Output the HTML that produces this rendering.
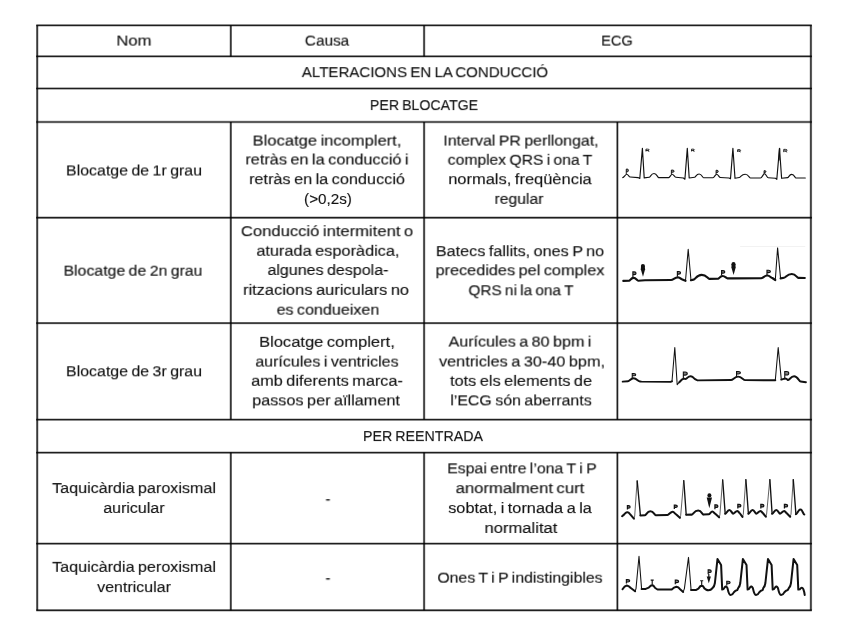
<!DOCTYPE html>
<html><head><meta charset="utf-8"><title>Taula ECG</title>
<style>
html,body{margin:0;padding:0;background:#fff;}
body{width:848px;height:636px;position:relative;overflow:hidden;font-family:"Liberation Sans",sans-serif;}
.t{position:absolute;white-space:nowrap;font-size:14.0px;line-height:16px;color:#111;transform-origin:50% 50%;will-change:transform;word-spacing:-0.9px;-webkit-text-stroke:0.12px #111;}
svg{position:absolute;left:0;top:0;}
</style></head><body>
<svg width="848" height="636" viewBox="0 0 848 636">
<g stroke="#000" stroke-opacity="0.4" stroke-width="2.4" fill="none" stroke-linecap="butt"><line x1="36.30" y1="25.4" x2="811.80" y2="25.4"/><line x1="36.30" y1="56.4" x2="811.80" y2="56.4"/><line x1="36.30" y1="88.5" x2="811.80" y2="88.5"/><line x1="36.30" y1="122.0" x2="811.80" y2="122.0"/><line x1="36.30" y1="217.7" x2="811.80" y2="217.7"/><line x1="36.30" y1="323.1" x2="811.80" y2="323.1"/><line x1="36.30" y1="419.6" x2="811.80" y2="419.6"/><line x1="36.30" y1="452.6" x2="811.80" y2="452.6"/><line x1="36.30" y1="543.6" x2="811.80" y2="543.6"/><line x1="36.30" y1="610.3" x2="811.80" y2="610.3"/><line x1="37.2" y1="25.4" x2="37.2" y2="610.3"/><line x1="810.9" y1="25.4" x2="810.9" y2="610.3"/><line x1="230.8" y1="25.4" x2="230.8" y2="56.4"/><line x1="230.8" y1="122.0" x2="230.8" y2="419.6"/><line x1="230.8" y1="452.6" x2="230.8" y2="610.3"/><line x1="424.1" y1="25.4" x2="424.1" y2="56.4"/><line x1="424.1" y1="122.0" x2="424.1" y2="419.6"/><line x1="424.1" y1="452.6" x2="424.1" y2="610.3"/><line x1="617.4" y1="122.0" x2="617.4" y2="419.6"/><line x1="617.4" y1="452.6" x2="617.4" y2="610.3"/></g><g stroke="#000" stroke-opacity="0.8" stroke-width="1.2" fill="none" stroke-linecap="butt"><line x1="36.30" y1="25.4" x2="811.80" y2="25.4"/><line x1="36.30" y1="56.4" x2="811.80" y2="56.4"/><line x1="36.30" y1="88.5" x2="811.80" y2="88.5"/><line x1="36.30" y1="122.0" x2="811.80" y2="122.0"/><line x1="36.30" y1="217.7" x2="811.80" y2="217.7"/><line x1="36.30" y1="323.1" x2="811.80" y2="323.1"/><line x1="36.30" y1="419.6" x2="811.80" y2="419.6"/><line x1="36.30" y1="452.6" x2="811.80" y2="452.6"/><line x1="36.30" y1="543.6" x2="811.80" y2="543.6"/><line x1="36.30" y1="610.3" x2="811.80" y2="610.3"/><line x1="37.2" y1="25.4" x2="37.2" y2="610.3"/><line x1="810.9" y1="25.4" x2="810.9" y2="610.3"/><line x1="230.8" y1="25.4" x2="230.8" y2="56.4"/><line x1="230.8" y1="122.0" x2="230.8" y2="419.6"/><line x1="230.8" y1="452.6" x2="230.8" y2="610.3"/><line x1="424.1" y1="25.4" x2="424.1" y2="56.4"/><line x1="424.1" y1="122.0" x2="424.1" y2="419.6"/><line x1="424.1" y1="452.6" x2="424.1" y2="610.3"/><line x1="617.4" y1="122.0" x2="617.4" y2="419.6"/><line x1="617.4" y1="452.6" x2="617.4" y2="610.3"/></g>
<g stroke="#111" fill="none" stroke-linejoin="round" stroke-linecap="round">
<path d="M622.7,177.6 C624.1,177.6 625.4,174.2 626.8,174.2 C628.0,174.2 629.0,177.0 630.2,177.0 L638.0,177.6 L639.8,178.5 L642.4,148.3 L644.2,177.9 L649.3,177.2 C650.3,177.2 651.1,173.5 654.0,173.5 C656.9,173.5 657.7,177.6 658.7,177.6 L668.7,177.6 C669.9,177.6 671.0,174.2 672.2,174.2 C673.5,174.2 674.5,177.2 675.8,177.2 L683.4,178.0 L684.9,179.2 L687.3,148.3 L689.2,178.0 L694.7,177.2 C695.7,177.2 696.4,174.0 699.1,174.0 C701.8,174.0 702.5,177.7 703.5,177.7 L713.0,177.7 C714.3,177.7 715.4,174.2 716.7,174.2 C718.0,174.2 719.1,177.5 720.4,177.5 L729.0,178.0 L730.5,178.8 L732.9,148.3 L735.0,178.3 L739.3,177.5 C740.6,177.5 741.5,174.2 745.2,174.2 C748.5,174.2 749.3,178.0 750.5,178.0 L760.5,178.0 C762.0,178.0 763.2,173.7 764.7,173.7 C765.9,173.7 767.0,177.7 768.2,177.7 L775.5,178.3 L776.8,179.3 L779.5,148.3 L781.6,178.3 L787.7,177.6 C788.6,177.6 789.3,174.4 791.8,174.4 C794.3,174.4 795.0,178.0 795.9,178.0 L805.3,178.0" stroke-width="1.15" />
<path d="M779.0,160 L779.6,148.6" stroke-width="1.3" />
<path d="M626.27,174.00 L626.27,169.07 L627.24,169.07 Q628.42,169.07 628.42,170.43 Q628.42,171.78 627.24,171.78 L626.27,171.78" stroke-width="0.95" stroke-linecap="butt" stroke-linejoin="miter" fill="#111" fill-opacity="0.55"/>
<path d="M671.38,174.20 L671.38,170.07 L672.57,170.07 Q674.02,170.07 674.02,171.21 Q674.02,172.34 672.57,172.34 L671.38,172.34" stroke-width="0.95" stroke-linecap="butt" stroke-linejoin="miter" fill="#111" fill-opacity="0.55"/>
<path d="M716.08,174.40 L716.08,170.28 L717.04,170.28 Q718.23,170.28 718.23,171.41 Q718.23,172.54 717.04,172.54 L716.08,172.54" stroke-width="0.95" stroke-linecap="butt" stroke-linejoin="miter" fill="#111" fill-opacity="0.55"/>
<path d="M764.08,174.00 L764.08,170.67 L764.91,170.67 Q765.92,170.67 765.92,171.59 Q765.92,172.50 764.91,172.50 L764.08,172.50" stroke-width="0.95" stroke-linecap="butt" stroke-linejoin="miter" fill="#111" fill-opacity="0.55"/>
<path d="M645.95,151.45 L645.95,149.15 L647.44,149.15 Q649.25,149.15 649.25,149.84 Q649.25,150.52 647.44,150.52 L645.95,150.52 M647.27,150.52 L649.25,151.45" stroke-width="0.90" stroke-linecap="butt" stroke-linejoin="miter"/>
<path d="M691.55,151.45 L691.55,149.15 L692.86,149.15 Q694.45,149.15 694.45,149.84 Q694.45,150.52 692.86,150.52 L691.55,150.52 M692.71,150.52 L694.45,151.45" stroke-width="0.90" stroke-linecap="butt" stroke-linejoin="miter"/>
<path d="M737.65,151.95 L737.65,149.65 L739.00,149.65 Q740.65,149.65 740.65,150.34 Q740.65,151.02 739.00,151.02 L737.65,151.02 M738.85,151.02 L740.65,151.95" stroke-width="0.90" stroke-linecap="butt" stroke-linejoin="miter"/>
<path d="M783.75,152.15 L783.75,149.35 L785.28,149.35 Q787.15,149.35 787.15,150.16 Q787.15,150.97 785.28,150.97 L783.75,150.97 M785.11,150.97 L787.15,152.15" stroke-width="0.90" stroke-linecap="butt" stroke-linejoin="miter"/>
<path d="M623.3,280.9 L629.2,280.7 C630.1,280.7 630.9,277.9 633.6,277.9 C636.1,277.9 636.8,280.7 638.2,280.7 L645.0,280.3 L671.0,280.0 C673.5,280.0 674.4,277.3 678.0,277.3 C680.4,277.3 681.0,279.4 682.3,279.4 L685.5,280.8" stroke-width="2.15" />
<path d="M685.5,280.8 L688.2,249.3 L691.0,280.2" stroke-width="1.05" />
<path d="M691.0,280.2 L693.5,279.6 C695.3,279.6 696.6,274.8 701.7,274.8 C706.5,274.8 707.7,278.9 709.4,278.9 L718.1,278.8 C719.1,278.8 719.9,276.0 722.6,276.0 C725.3,276.0 726.0,278.3 727.5,278.3 L733.0,278.4 L761.0,278.3 C763.2,278.3 764.1,275.5 767.3,275.5 C770.0,275.5 770.8,278.0 772.3,278.0 L775.3,280.0" stroke-width="2.15" />
<path d="M775.3,280.0 L777.6,247.9 L780.6,278.4" stroke-width="1.05" />
<path d="M780.6,278.4 L784.1,277.7 C785.8,277.7 787.0,274.0 791.8,274.0 C795.8,274.0 796.9,277.8 798.3,277.8 L804.8,278.0" stroke-width="2.15" />
<path d="M632.88,277.30 L632.88,271.88 L634.29,271.88 Q636.02,271.88 636.02,273.23 Q636.02,274.59 634.29,274.59 L632.88,274.59" stroke-width="1.15" stroke-linecap="butt" stroke-linejoin="miter" fill="#111" fill-opacity="0.55"/>
<path d="M677.38,276.80 L677.38,271.47 L678.79,271.47 Q680.52,271.47 680.52,272.81 Q680.52,274.14 678.79,274.14 L677.38,274.14" stroke-width="1.15" stroke-linecap="butt" stroke-linejoin="miter" fill="#111" fill-opacity="0.55"/>
<path d="M721.58,275.60 L721.58,270.68 L723.04,270.68 Q724.82,270.68 724.82,271.91 Q724.82,273.14 723.04,273.14 L721.58,273.14" stroke-width="1.15" stroke-linecap="butt" stroke-linejoin="miter" fill="#111" fill-opacity="0.55"/>
<path d="M766.98,275.00 L766.98,270.27 L768.53,270.27 Q770.42,270.27 770.42,271.46 Q770.42,272.64 768.53,272.64 L766.98,272.64" stroke-width="1.15" stroke-linecap="butt" stroke-linejoin="miter" fill="#111" fill-opacity="0.55"/>
<ellipse cx="642.9" cy="266.0" rx="2.05" ry="2.1" fill="#111" stroke="none"/><path d="M641.1,266 L644.7,266 L645.1,269.2 L643.0,276.7 L640.8,269.2 Z" fill="#111" stroke="none"/>
<ellipse cx="733.5" cy="264.2" rx="2.05" ry="2.1" fill="#111" stroke="none"/><path d="M731.7,264.2 L735.3,264.2 L735.7,267.4 L733.6,274.9 L731.4,267.4 Z" fill="#111" stroke="none"/>
<line x1="740.5" y1="246.5" x2="804.8" y2="246.5" stroke="#ececec" stroke-width="0.7"/>
<path d="M622.7,381.6 L628.0,381.3 C629.6,381.3 630.8,378.3 633.5,378.3 C636.8,378.3 638.0,381.4 640.0,381.4 L641.5,381.6 L670.5,381.9 L672.0,381.3" stroke-width="1.95" />
<path d="M672.0,381.3 L674.8,347.5 L677.2,384.7 L679.5,382.0" stroke-width="1.05" />
<path d="M679.3,382.2 L681.7,379.7 L684.0,378.6 Q686.0,379.6 687.5,377.6 Q690.0,375.3 692.5,376.8 Q695.0,379.6 697.5,380.4 L731.0,380.0 C733.1,380.0 734.5,376.6 738.1,376.6 C741.7,376.6 743.1,380.1 745.2,380.1 L775.3,380.3" stroke-width="1.95" />
<path d="M775.3,380.3 L778.2,347.5 L781.3,379.6" stroke-width="1.05" />
<path d="M781.3,379.6 L784.5,378.6 Q786.5,378.4 787.9,380.1 C789.5,380.1 790.7,376.3 794.1,376.3 C797.7,376.3 799.0,381.5 800.6,381.5 L805.9,382.2" stroke-width="1.95" />
<path d="M632.25,378.60 L632.25,373.55 L633.83,373.55 Q635.75,373.55 635.75,374.69 Q635.75,375.82 633.83,375.82 L632.25,375.82" stroke-width="1.10" stroke-linecap="butt" stroke-linejoin="miter" fill="#111" fill-opacity="0.55"/>
<path d="M683.35,379.00 L683.35,371.95 L685.10,371.95 Q687.25,371.95 687.25,373.54 Q687.25,375.12 685.10,375.12 L683.35,375.12" stroke-width="1.10" stroke-linecap="butt" stroke-linejoin="miter" fill="#111" fill-opacity="0.55"/>
<path d="M736.55,377.00 L736.55,371.45 L738.30,371.45 Q740.45,371.45 740.45,372.70 Q740.45,373.95 738.30,373.95 L736.55,373.95" stroke-width="1.10" stroke-linecap="butt" stroke-linejoin="miter" fill="#111" fill-opacity="0.55"/>
<path d="M784.75,379.40 L784.75,371.45 L786.55,371.45 Q788.75,371.45 788.75,373.24 Q788.75,375.03 786.55,375.03 L784.75,375.03" stroke-width="1.10" stroke-linecap="butt" stroke-linejoin="miter" fill="#111" fill-opacity="0.55"/>
<path d="M633.9,518.6 L634.7,516.1 L637.1,480.8" stroke-width="0.85" stroke="#444"/>
<path d="M637.2,481.0 L640.4,515.4" stroke-width="1.35" />
<path d="M679.9,517.8 L680.7,515.3 L683.7,480.5" stroke-width="0.85" stroke="#444"/>
<path d="M683.8,480.7 L686.2,514.8" stroke-width="1.35" />
<path d="M719.1,517.3 L719.9,514.8 L722.6,479.8" stroke-width="0.85" stroke="#444"/>
<path d="M722.7,480.0 L725.2,513.8" stroke-width="1.35" />
<path d="M742.5,516.9 L743.3,514.4 L745.8,479.5" stroke-width="0.85" stroke="#444"/>
<path d="M745.9,479.7 L748.4,513.8" stroke-width="1.35" />
<path d="M765.8,516.7 L766.6,514.2 L769.8,479.5" stroke-width="0.85" stroke="#444"/>
<path d="M769.9,479.7 L772.1,513.8" stroke-width="1.35" />
<path d="M790.2,516.7 L791.0,514.2 L793.2,479.5" stroke-width="0.85" stroke="#444"/>
<path d="M793.3,479.7 L795.9,514.2" stroke-width="1.35" />
<path d="M622.1,516.2 L624.0,514.6 Q627.4,510.6 629.6,513.6 L633.9,518.6" stroke-width="2.05" />
<path d="M640.4,515.4 L645.1,515.2 C646.3,515.2 647.1,511.2 650.4,511.2 C653.7,511.2 654.5,515.2 655.7,515.2 L667.5,514.9 C669.1,514.9 670.4,511.8 672.8,511.8 C674.2,511.8 675.0,514.2 676.0,514.2 L679.9,517.8" stroke-width="2.05" />
<path d="M686.2,514.8 L691.7,514.6 C693.1,514.6 694.2,510.6 698.2,510.6 C701.5,510.6 702.3,514.6 703.5,514.6 L708.8,514.2 C709.9,514.2 710.8,511.5 712.4,511.5 C713.6,511.5 714.2,513.6 715.0,513.6 L719.1,517.3" stroke-width="2.05" />
<path d="M725.2,513.8 C726.5,513.8 727.3,510.0 729.4,510.0 C731.2,510.0 732.0,513.6 733.1,513.6 C734.4,513.6 735.5,510.9 737.5,510.9 C738.4,510.9 739.0,513.0 739.6,513.0 L742.5,516.9" stroke-width="2.05" />
<path d="M748.4,513.8 C749.7,513.8 750.5,510.0 752.6,510.0 C754.5,510.0 755.2,513.6 756.3,513.6 C757.6,513.6 758.7,510.9 760.7,510.9 C761.6,510.9 762.2,513.0 762.8,513.0 L765.8,516.7" stroke-width="2.05" />
<path d="M772.1,513.8 C773.4,513.8 774.2,510.0 776.3,510.0 C778.2,510.0 778.9,513.6 780.0,513.6 C781.3,513.6 782.4,510.9 784.4,510.9 C785.3,510.9 785.9,513.0 786.5,513.0 L790.2,516.7" stroke-width="2.05" />
<path d="M795.9,514.2 C797.3,514.2 798.2,509.6 800.5,509.6 C802.4,509.6 803.2,514.4 804.3,514.4" stroke-width="2.05" />
<path d="M627.42,509.60 L627.42,505.73 L628.62,505.73 Q630.08,505.73 630.08,506.89 Q630.08,508.05 628.62,508.05 L627.42,508.05" stroke-width="1.25" stroke-linecap="butt" stroke-linejoin="miter" fill="#111" fill-opacity="0.55"/>
<path d="M674.33,509.00 L674.33,505.02 L675.65,505.02 Q677.27,505.02 677.27,506.22 Q677.27,507.41 675.65,507.41 L674.33,507.41" stroke-width="1.25" stroke-linecap="butt" stroke-linejoin="miter" fill="#111" fill-opacity="0.55"/>
<path d="M714.92,509.20 L714.92,504.82 L716.25,504.82 Q717.88,504.82 717.88,506.14 Q717.88,507.45 716.25,507.45 L714.92,507.45" stroke-width="1.25" stroke-linecap="butt" stroke-linejoin="miter" fill="#111" fill-opacity="0.55"/>
<path d="M737.83,508.60 L737.83,504.43 L739.20,504.43 Q740.88,504.43 740.88,505.68 Q740.88,506.93 739.20,506.93 L737.83,506.93" stroke-width="1.25" stroke-linecap="butt" stroke-linejoin="miter" fill="#111" fill-opacity="0.55"/>
<path d="M760.83,508.60 L760.83,504.43 L762.20,504.43 Q763.88,504.43 763.88,505.68 Q763.88,506.93 762.20,506.93 L760.83,506.93" stroke-width="1.25" stroke-linecap="butt" stroke-linejoin="miter" fill="#111" fill-opacity="0.55"/>
<path d="M784.42,508.60 L784.42,504.43 L785.84,504.43 Q787.58,504.43 787.58,505.68 Q787.58,506.93 785.84,506.93 L784.42,506.93" stroke-width="1.25" stroke-linecap="butt" stroke-linejoin="miter" fill="#111" fill-opacity="0.55"/>
<path d="M706.7,497.5 L712.0,497.5 L709.3,508.2 Z" fill="#111" stroke="none"/>
<ellipse cx="709.4" cy="495.4" rx="2.0" ry="2.1" fill="#111" stroke="none"/>
<path d="M635.1,591.3 L636.0,588.6 L639.0,556.2 L641.6,588.9" stroke-width="1.05" />
<path d="M683.2,591.9 L684.4,588.6 L688.5,557.4 L691.1,590.1" stroke-width="1.05" />
<path d="M622.5,589.2 Q624.5,586.0 626.8,585.6 Q629.0,586.0 630.8,588.0 L635.1,591.3" stroke-width="2.0" />
<path d="M641.6,588.9 L645.7,588.9 L648.8,587.6 L651.0,585.6 L653.4,585.6 L655.2,588.0 L657.5,589.5 L671.7,589.5 Q674.0,587.2 676.4,586.7 Q678.4,587.0 679.8,588.9 L683.2,591.9" stroke-width="2.0" />
<path d="M691.1,590.1 L695.8,590.1 L698.4,588.6 L700.5,586.0 L702.9,586.0 L704.4,588.4 L705.9,589.5 C708.0,590.6 710.8,590.2 712.6,588.0 Q714.4,586.6 714.9,583.0 L717.5,558.9 L721.1,564.9 L722.2,589.6 Q723.7,589.6 724.7,587.4 Q726.1,585.3 727.5,588.2 Q728.9,594.8 730.6,595.1 Q732.6,595.0 733.8,592.4 Q735.1,590.4 737.3,590.0 L738.3,587.8 Q739.8,586.6 740.3,583.0 L742.9,558.9 L746.5,564.9 L747.6,589.6 Q749.1,589.6 750.1,587.4 Q751.5,585.3 752.9,588.2 Q754.3,594.8 756.0,595.1 Q758.0,595.0 759.2,592.4 Q760.5,590.4 762.7,590.0 L763.4,587.8 Q764.9,586.6 765.4,583.0 L768.0,558.9 L771.6,564.9 L772.7,589.6 Q774.2,589.6 775.2,587.4 Q776.6,585.3 778.0,588.2 Q779.4,594.8 781.1,595.1 Q783.1,595.0 784.3,592.4 Q785.6,590.4 787.8,590.0 L789.0,587.8 Q790.5,586.6 791.0,583.0 L793.6,558.9 L797.2,564.9 L798.3,589.6 Q799.8,589.8 800.8,588.2 Q802.4,586.8 803.4,589.4 Q804.4,592.0 804.7,594.9" stroke-width="2.0" stroke-linejoin="round"/>
<path d="M626.38,583.60 L626.38,579.58 L627.88,579.58 Q629.72,579.58 629.72,580.78 Q629.72,581.99 627.88,581.99 L626.38,581.99" stroke-width="1.15" stroke-linecap="butt" stroke-linejoin="miter" fill="#111" fill-opacity="0.55"/>
<path d="M650.68,580.18 L653.72,580.18 M652.20,580.18 L652.20,585.00" stroke-width="1.15" stroke-linecap="butt" stroke-linejoin="miter"/>
<path d="M675.28,584.20 L675.28,580.18 L676.78,580.18 Q678.62,580.18 678.62,581.38 Q678.62,582.59 676.78,582.59 L675.28,582.59" stroke-width="1.15" stroke-linecap="butt" stroke-linejoin="miter" fill="#111" fill-opacity="0.55"/>
<path d="M700.18,580.78 L703.22,580.78 M701.70,580.78 L701.70,585.40" stroke-width="1.15" stroke-linecap="butt" stroke-linejoin="miter"/>
<path d="M708.15,574.20 L708.15,569.85 L709.54,569.85 Q711.25,569.85 711.25,571.15 Q711.25,572.46 709.54,572.46 L708.15,572.46" stroke-width="1.10" stroke-linecap="butt" stroke-linejoin="miter" fill="#111" fill-opacity="0.55"/>
<path d="M726.78,585.40 L726.78,581.28 L728.28,581.28 Q730.12,581.28 730.12,582.51 Q730.12,583.75 728.28,583.75 L726.78,583.75" stroke-width="1.15" stroke-linecap="butt" stroke-linejoin="miter" fill="#111" fill-opacity="0.55"/>
<path d="M708.8,574.0 L708.8,578.5" stroke-width="1.2"/>
<path d="M706.7,576.4 L710.9,576.4 L708.8,583.2 Z" fill="#111" stroke="none"/>
</g>
</svg>
<div class="t" style="left:134.44px;top:32px;transform:translate(-50%,0.60px) scaleX(1.1929) rotate(0.03deg)">Nom</div>
<div class="t" style="left:326.66px;top:32px;transform:translate(-50%,0.60px) scaleX(1.0927) rotate(0.03deg)">Causa</div>
<div class="t" style="left:617.28px;top:32px;transform:translate(-50%,0.60px) scaleX(1.0414) rotate(0.03deg)">ECG</div>
<div class="t" style="left:424.54px;top:64px;transform:translate(-50%,0.20px) scaleX(1.0760) rotate(0.03deg)">ALTERACIONS EN LA CONDUCCIÓ</div>
<div class="t" style="left:423.59px;top:97px;transform:translate(-50%,0.10px) scaleX(1.0121) rotate(0.03deg)">PER BLOCATGE</div>
<div class="t" style="left:423.48px;top:428px;transform:translate(-50%,0.10px) scaleX(1.0154) rotate(0.03deg)">PER REENTRADA</div>
<div class="t" style="left:134.43px;top:162px;transform:translate(-50%,0.50px) scaleX(1.1390) rotate(0.03deg)">Blocatge de 1r grau</div>
<div class="t" style="left:133.36px;top:262px;transform:translate(-50%,0.70px) scaleX(1.1328) rotate(0.03deg)">Blocatge de 2n grau</div>
<div class="t" style="left:134.43px;top:363px;transform:translate(-50%,0.30px) scaleX(1.1390) rotate(0.03deg)">Blocatge de 3r grau</div>
<div class="t" style="left:134.22px;top:480px;transform:translate(-50%,0.10px) scaleX(1.1521) rotate(0.03deg)">Taquicàrdia paroxismal</div>
<div class="t" style="left:134.21px;top:500px;transform:translate(-50%,0.00px) scaleX(1.1444) rotate(0.03deg)">auricular</div>
<div class="t" style="left:134.22px;top:558px;transform:translate(-50%,0.90px) scaleX(1.1521) rotate(0.03deg)">Taquicàrdia peroxismal</div>
<div class="t" style="left:133.86px;top:579px;transform:translate(-50%,0.10px) scaleX(1.1439) rotate(0.03deg)">ventricular</div>
<div class="t" style="left:327.24px;top:132px;transform:translate(-50%,0.60px) scaleX(1.1815) rotate(0.03deg)">Blocatge incomplert,</div>
<div class="t" style="left:326.92px;top:151px;transform:translate(-50%,0.50px) scaleX(1.1629) rotate(0.03deg)">retràs en la conducció i</div>
<div class="t" style="left:327.43px;top:171px;transform:translate(-50%,0.20px) scaleX(1.1612) rotate(0.03deg)">retràs en la conducció</div>
<div class="t" style="left:327.65px;top:191px;transform:translate(-50%,0.00px) scaleX(1.0860) rotate(0.03deg)">(&gt;0,2s)</div>
<div class="t" style="left:327.44px;top:223px;transform:translate(-50%,0.20px) scaleX(1.1863) rotate(0.03deg)">Conducció intermitent o</div>
<div class="t" style="left:327.93px;top:242px;transform:translate(-50%,0.80px) scaleX(1.1659) rotate(0.03deg)">aturada esporàdica,</div>
<div class="t" style="left:327.75px;top:262px;transform:translate(-50%,0.00px) scaleX(1.1443) rotate(0.03deg)">algunes despola-</div>
<div class="t" style="left:326.33px;top:281px;transform:translate(-50%,0.90px) scaleX(1.1745) rotate(0.03deg)">ritzacions auriculars no</div>
<div class="t" style="left:328.22px;top:301px;transform:translate(-50%,0.70px) scaleX(1.1506) rotate(0.03deg)">es condueixen</div>
<div class="t" style="left:327.33px;top:333px;transform:translate(-50%,0.90px) scaleX(1.1798) rotate(0.03deg)">Blocatge complert,</div>
<div class="t" style="left:327.32px;top:353px;transform:translate(-50%,0.60px) scaleX(1.1468) rotate(0.03deg)">aurícules i ventricles</div>
<div class="t" style="left:327.32px;top:372px;transform:translate(-50%,0.80px) scaleX(1.1638) rotate(0.03deg)">amb diferents marca-</div>
<div class="t" style="left:326.34px;top:392px;transform:translate(-50%,0.40px) scaleX(1.1606) rotate(0.03deg)">passos per aïllament</div>
<div class="t" style="left:328.41px;top:491px;transform:translate(-50%,0.20px) scaleX(1.0500) rotate(0.03deg)">-</div>
<div class="t" style="left:328.41px;top:570px;transform:translate(-50%,0.20px) scaleX(1.0500) rotate(0.03deg)">-</div>
<div class="t" style="left:521.21px;top:132px;transform:translate(-50%,0.60px) scaleX(1.1353) rotate(0.03deg)">Interval PR perllongat,</div>
<div class="t" style="left:520.26px;top:151px;transform:translate(-50%,0.80px) scaleX(1.1177) rotate(0.03deg)">complex QRS i ona T</div>
<div class="t" style="left:520.17px;top:171px;transform:translate(-50%,0.20px) scaleX(1.1760) rotate(0.03deg)">normals, freqüència</div>
<div class="t" style="left:519.49px;top:190px;transform:translate(-50%,0.90px) scaleX(1.1186) rotate(0.03deg)">regular</div>
<div class="t" style="left:520.39px;top:243px;transform:translate(-50%,0.20px) scaleX(1.1566) rotate(0.03deg)">Batecs fallits, ones P no</div>
<div class="t" style="left:520.20px;top:262px;transform:translate(-50%,0.30px) scaleX(1.1628) rotate(0.03deg)">precedides pel complex</div>
<div class="t" style="left:520.58px;top:282px;transform:translate(-50%,0.30px) scaleX(1.0958) rotate(0.03deg)">QRS ni la ona T</div>
<div class="t" style="left:520.35px;top:333px;transform:translate(-50%,0.60px) scaleX(1.1532) rotate(0.03deg)">Aurícules a 80 bpm i</div>
<div class="t" style="left:521.55px;top:353px;transform:translate(-50%,0.50px) scaleX(1.1629) rotate(0.03deg)">ventricles a 30-40 bpm,</div>
<div class="t" style="left:520.76px;top:372px;transform:translate(-50%,0.90px) scaleX(1.1664) rotate(0.03deg)">tots els elements de</div>
<div class="t" style="left:520.79px;top:392px;transform:translate(-50%,0.40px) scaleX(1.1387) rotate(0.03deg)">l’ECG són aberrants</div>
<div class="t" style="left:521.53px;top:460px;transform:translate(-50%,0.40px) scaleX(1.1331) rotate(0.03deg)">Espai entre l’ona T i P</div>
<div class="t" style="left:520.23px;top:480px;transform:translate(-50%,0.20px) scaleX(1.1917) rotate(0.03deg)">anormalment curt</div>
<div class="t" style="left:520.13px;top:500px;transform:translate(-50%,0.10px) scaleX(1.1661) rotate(0.03deg)">sobtat, i tornada a la</div>
<div class="t" style="left:520.73px;top:520px;transform:translate(-50%,0.00px) scaleX(1.1885) rotate(0.03deg)">normalitat</div>
<div class="t" style="left:519.93px;top:569px;transform:translate(-50%,0.70px) scaleX(1.1342) rotate(0.03deg)">Ones T i P indistingibles</div>
</body></html>
